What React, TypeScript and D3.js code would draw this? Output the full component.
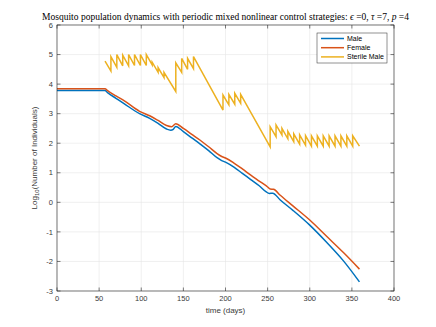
import React from "react";
import * as d3 from "d3";

const xTicks = [0, 50, 100, 150, 200, 250, 300, 350, 400];
const yTicks = [-3, -2, -1, 0, 1, 2, 3, 4, 5, 6];

const maleDays = [0, 57, 60, 70, 80, 98, 110, 120, 130, 135, 138, 141, 150, 160, 170, 180, 190, 195, 200, 210, 220, 230, 240, 248, 252, 256, 265, 280, 300, 320, 340, 359];
const maleLog = [3.78, 3.78, 3.71, 3.52, 3.33, 3.0, 2.84, 2.67, 2.48, 2.44, 2.47, 2.57, 2.39, 2.18, 1.97, 1.75, 1.51, 1.42, 1.36, 1.19, 0.98, 0.77, 0.56, 0.36, 0.3, 0.31, 0.08, -0.27, -0.77, -1.35, -1.98, -2.69];

const femaleDays = [0, 57, 60, 70, 80, 98, 110, 120, 130, 136, 141, 150, 160, 170, 180, 190, 195, 200, 210, 220, 230, 240, 250, 253, 257, 265, 280, 300, 320, 340, 359];
const femaleLog = [3.84, 3.84, 3.78, 3.6, 3.43, 3.08, 2.93, 2.77, 2.6, 2.56, 2.66, 2.5, 2.3, 2.1, 1.88, 1.65, 1.56, 1.5, 1.33, 1.13, 0.92, 0.72, 0.52, 0.45, 0.44, 0.24, -0.12, -0.6, -1.15, -1.7, -2.26];

const sterileDays = [
  57, 64, 64, 71, 71, 78, 78, 85, 85, 92, 92, 99, 99, 106, 106, 113, 113, 120, 120, 127, 127,
  141, 141, 148, 148, 155, 155, 162, 162,
  197, 197, 204, 204, 211, 211, 218, 218,
  253, 253, 260, 260, 267, 267, 274, 274, 281, 281, 288, 288, 295, 295, 302, 302, 309, 309,
  316, 316, 323, 323, 330, 330, 337, 337, 344, 344, 351, 351, 359,
];
const sterileLog = [
  4.78, 4.44, 4.93, 4.57, 5.0, 4.62, 4.98, 4.62, 5.0, 4.63, 5.0, 4.63, 5.0, 4.63, 5.0, 4.65, 4.74, 4.4, 4.56, 4.22, 4.4,
  3.75, 4.72, 4.4, 4.87, 4.5, 4.87, 4.52, 4.93,
  3.12, 3.63, 3.3, 3.65, 3.32, 3.69, 3.35, 3.65,
  1.88, 2.56, 2.22, 2.62, 2.28, 2.5, 2.15, 2.4, 2.05, 2.32, 1.97, 2.28, 1.93, 2.26, 1.9, 2.25, 1.9, 2.25,
  1.9, 2.25, 1.9, 2.25, 1.9, 2.25, 1.9, 2.25, 1.9, 2.25, 1.9, 2.25, 1.9,
];

const seriesNames = ["Male", "Female", "Sterile Male"];
const seriesColors = ["#0072BD", "#D95319", "#EDB120"];

const W = 436;
const H = 327;
const L = 57, R = 394, T = 25, B = 291;

export default function App() {
  const x = d3.scaleLinear().domain([0, 400]).range([L, R]);
  const y = d3.scaleLinear().domain([-3, 6]).range([B, T]);
  const lineSmooth = d3.line<[number, number]>().x(d => x(d[0])).y(d => y(d[1])).curve(d3.curveMonotoneX);
  const lineLin = d3.line<[number, number]>().x(d => x(d[0])).y(d => y(d[1]));

  const male = maleDays.map((d, i) => [d, maleLog[i]] as [number, number]);
  const female = femaleDays.map((d, i) => [d, femaleLog[i]] as [number, number]);
  const sterile = sterileDays.map((d, i) => [d, sterileLog[i]] as [number, number]);

  const axisColor = "#262626";
  const labelColor = "#3a3a3a";
  const tickFont = "'Liberation Sans', Arial, sans-serif";

  return (
    <svg width={W} height={H} style={{ position: "absolute", left: 0, top: 0, background: "#fff" }}>
      <rect x={0} y={0} width={W} height={H} fill="#fff" />
      <rect x={L} y={T} width={R - L} height={B - T} fill="#fff" />
      {/* grid */}
      {xTicks.map(t => (
        <line key={"gx" + t} x1={x(t)} x2={x(t)} y1={T} y2={B} stroke="#e6e6e6" strokeWidth={0.6} />
      ))}
      {yTicks.map(t => (
        <line key={"gy" + t} x1={L} x2={R} y1={y(t)} y2={y(t)} stroke="#e6e6e6" strokeWidth={0.6} />
      ))}
      {/* lines */}
      <path d={lineSmooth(male) || ""} fill="none" stroke={seriesColors[0]} strokeWidth={1.5} />
      <path d={lineSmooth(female) || ""} fill="none" stroke={seriesColors[1]} strokeWidth={1.5} />
      <path d={lineLin(sterile) || ""} fill="none" stroke={seriesColors[2]} strokeWidth={1.5} />
      {/* box */}
      <rect x={L} y={T} width={R - L} height={B - T} fill="none" stroke={axisColor} strokeWidth={0.6} />
      {/* ticks */}
      {xTicks.map(t => (
        <g key={"tx" + t}>
          <line x1={x(t)} x2={x(t)} y1={B} y2={B - 3.5} stroke={axisColor} strokeWidth={0.6} />
          <line x1={x(t)} x2={x(t)} y1={T} y2={T + 3.5} stroke={axisColor} strokeWidth={0.6} />
          <text x={x(t)} y={B + 10} textAnchor="middle" fontSize={7.5} fontFamily={tickFont} fill={labelColor}>{t}</text>
        </g>
      ))}
      {yTicks.map(t => (
        <g key={"ty" + t}>
          <line x1={L} x2={L + 3.5} y1={y(t)} y2={y(t)} stroke={axisColor} strokeWidth={0.6} />
          <line x1={R} x2={R - 3.5} y1={y(t)} y2={y(t)} stroke={axisColor} strokeWidth={0.6} />
          <text x={L - 4} y={y(t) + 2.7} textAnchor="end" fontSize={7.5} fontFamily={tickFont} fill={labelColor}>{t}</text>
        </g>
      ))}
      {/* axis labels */}
      <text x={(L + R) / 2} y={B + 22} textAnchor="middle" fontSize={8} fontFamily={tickFont} fill={labelColor}>time (days)</text>
      <text transform={`translate(${37},${(T + B) / 2}) rotate(-90)`} textAnchor="middle" fontSize={8} fontFamily={tickFont} fill={labelColor}>
        Log<tspan fontSize={6} dy={2}>10</tspan><tspan dy={-2}>(Number of Individuals)</tspan>
      </text>
      {/* title */}
      <text x={(L + R) / 2} y={20} textAnchor="middle" fontSize={9.5} fontFamily="'Liberation Serif', 'DejaVu Serif', serif" fill="#000">
        Mosquito population dynamics with periodic mixed nonlinear control strategies: <tspan fontStyle="italic">ϵ</tspan> =0, <tspan fontStyle="italic">τ</tspan> =7, <tspan fontStyle="italic">p</tspan> =4
      </text>
      {/* legend */}
      <rect x={317} y={33} width={70} height={30} fill="#fff" stroke="#262626" strokeWidth={0.5} />
      {seriesNames.map((n, i) => (
        <g key={n}>
          <line x1={321} x2={344} y1={38.5 + i * 9.2} y2={38.5 + i * 9.2} stroke={seriesColors[i]} strokeWidth={1.5} />
          <text x={347} y={41 + i * 9.2} fontSize={7} fontFamily={tickFont} fill="#000">{n}</text>
        </g>
      ))}
    </svg>
  );
}
